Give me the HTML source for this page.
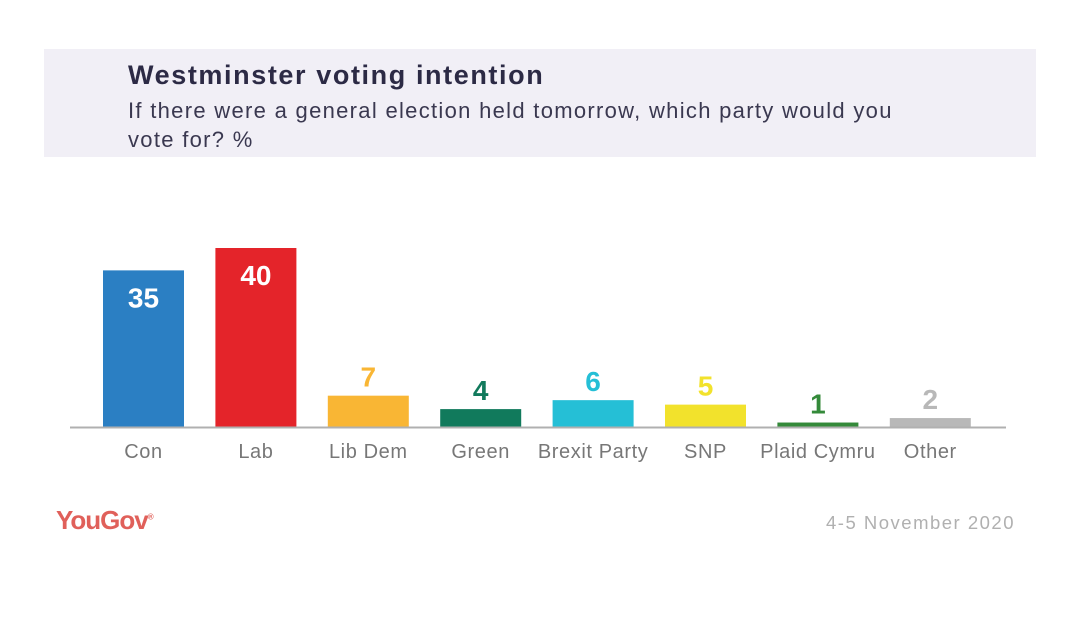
<!DOCTYPE html>
<html><head><meta charset="utf-8"><style>
body{margin:0;width:1080px;height:617px;background:#fff;font-family:"Liberation Sans",sans-serif;overflow:hidden;position:relative}
#hdr{position:absolute;left:44px;top:49px;width:992px;height:108px;background:#f1eff6}
#title{position:absolute;left:128px;top:60px;font-size:27px;font-weight:bold;color:#2c2a45;letter-spacing:1.6px}
#sub{position:absolute;left:128px;top:96px;font-size:22px;line-height:29px;color:#3a3850;width:790px;letter-spacing:1.3px}
#logo{position:absolute;left:56px;top:505px;font-size:26px;font-weight:bold;color:#e0605a;letter-spacing:-1px}
#date{position:absolute;left:826px;top:512px;font-size:18.5px;color:#b0b0b0;letter-spacing:1.5px}
</style></head><body>
<div id="hdr"></div>
<div id="title">Westminster voting intention</div>
<div id="sub">If there were a general election held tomorrow, which party would you vote for? %</div>
<svg id="chart" width="1080" height="617" style="position:absolute;left:0;top:0"></svg>
<div id="logo">YouGov<sup style="font-size:8px">®</sup></div>
<div id="date">4-5 November 2020</div>
<script>
const categories=["Con","Lab","Lib Dem","Green","Brexit Party","SNP","Plaid Cymru","Other"];
const values=[35,40,7,4,6,5,1,2];
const colors=["#2b7fc3","#e4242a","#f9b634","#117a5c","#25bfd6","#f2e22c","#348a3a","#b8b8b8"];
const svg=document.getElementById('chart');
const NS="http://www.w3.org/2000/svg";
const base=427,scale=4.475,x0=143.5,step=112.4,bw=81;
const y=v=>base-v*scale, x=i=>x0+i*step;
function mk(t,a){const e=document.createElementNS(NS,t);for(const k in a)e.setAttribute(k,a[k]);svg.appendChild(e);return e;}
categories.forEach((c,i)=>{
 const r=mk('rect',{x:x(i)-bw/2,y:y(values[i]),width:bw,height:values[i]*scale,fill:colors[i]});
 
 
 const inside=values[i]>=20;
 const t=mk('text',{x:x(i),y:inside?y(values[i])+37:y(values[i])-9,'text-anchor':'middle','font-size':28,'font-weight':'bold',fill:inside?'#fff':colors[i],'font-family':'Liberation Sans, sans-serif'});
 t.textContent=values[i];
 
 
 const l=mk('text',{x:x(i),y:458,'text-anchor':'middle','font-size':20,fill:'#777','letter-spacing':0.6,'font-family':'Liberation Sans, sans-serif'});
 l.textContent=c;
 
 
});
const ax=mk('line',{x1:70,x2:1006,y1:base+0.5,y2:base+0.5,stroke:'#b0b0b0','stroke-width':2});


</script>
</body></html>
